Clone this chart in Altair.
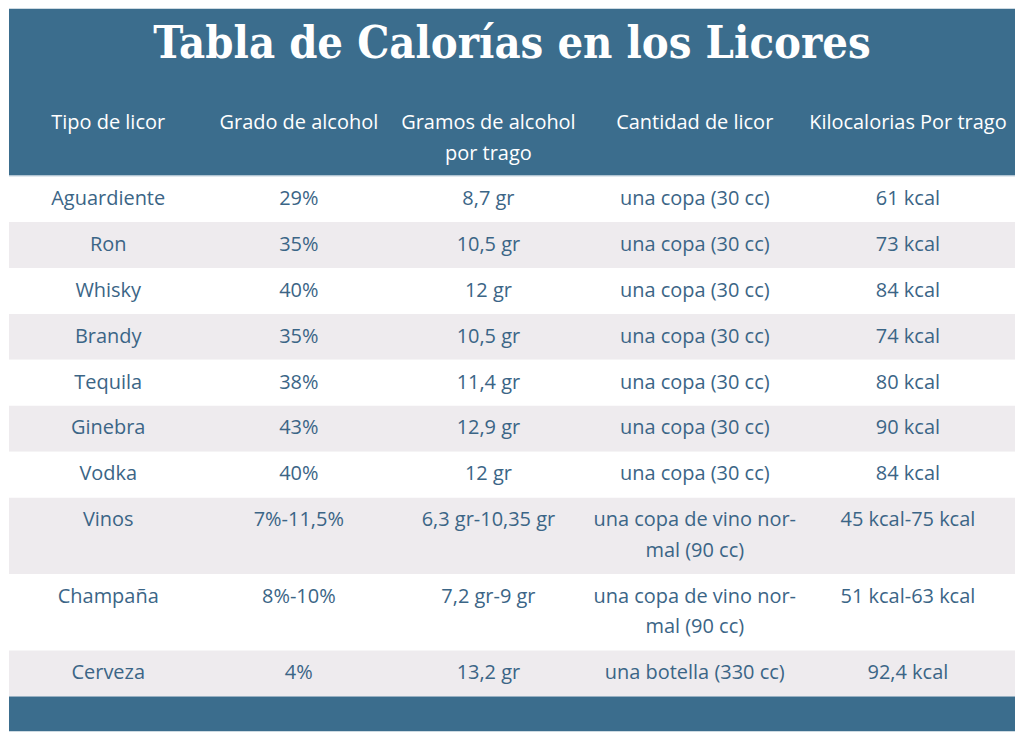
import altair as alt
import pandas as pd

# ---------------- data ----------------
titulo = "Tabla de Calorías en los Licores"
encabezados = ["Tipo de licor", "Grado de alcohol", "Gramos de alcohol\npor trago",
               "Cantidad de licor", "Kilocalorias Por trago"]
tipos = ["Aguardiente", "Ron", "Whisky", "Brandy", "Tequila", "Ginebra", "Vodka",
         "Vinos", "Champaña", "Cerveza"]
grados = ["29%", "35%", "40%", "35%", "38%", "43%", "40%", "7%-11,5%", "8%-10%", "4%"]
gramos = ["8,7 gr", "10,5 gr", "12 gr", "10,5 gr", "11,4 gr", "12,9 gr", "12 gr",
          "6,3 gr-10,35 gr", "7,2 gr-9 gr", "13,2 gr"]
cantidades = ["una copa (30 cc)"] * 7 + ["una copa de vino nor-\nmal (90 cc)",
                                         "una copa de vino nor-\nmal (90 cc)",
                                         "una botella (330 cc)"]
kcal = ["61 kcal", "73 kcal", "84 kcal", "74 kcal", "80 kcal", "90 kcal", "84 kcal",
        "45 kcal-75 kcal", "51 kcal-63 kcal", "92,4 kcal"]

# ---------------- layout (reference pixel space) ----------------
W_REF, H_REF = 1024, 747
W, H = 1008, 724
sx, sy = W / W_REF, H / H_REF
col_x = [101, 295, 488, 698, 915]
HEADER_BOTTOM = 173
LINE_H = 31.5
PAD = 8
FOOTER_BOTTOM = 747

BLUE = "#3b6d8d"
GRAY = "#eeebee"
TXT = "#3b6586"

columnas = [tipos, grados, gramos, cantidades, kcal]

bandas = [{"y": 0, "y2": HEADER_BOTTOM, "tipo": "cabecera"}]
celdas = []
top = HEADER_BOTTOM
for i in range(len(tipos)):
    lines = max(c[i].count("\n") + 1 for c in columnas)
    h = 2 * PAD + lines * LINE_H
    bandas.append({"y": top, "y2": top + h, "tipo": "gris" if i % 2 else "blanco"})
    for j, c in enumerate(columnas):
        celdas.append({"x": col_x[j], "y": top + PAD, "texto": c[i]})
    top += h
bandas.append({"y": top, "y2": FOOTER_BOTTOM, "tipo": "cabecera"})

cab = [{"x": col_x[j], "y": 103, "texto": t} for j, t in enumerate(encabezados)]
tit = [{"x": W_REF / 2, "y": 37, "texto": titulo}]

xs = alt.Scale(domain=[0, W_REF], nice=False, zero=False)
ys = alt.Scale(domain=[0, H_REF], nice=False, zero=False, reverse=True)

fondo = alt.Chart(pd.DataFrame(bandas)).mark_rect().encode(
    x=alt.value(0), x2=alt.value(W),
    y=alt.Y("y:Q", scale=ys, axis=None),
    y2="y2:Q",
    color=alt.Color("tipo:N", legend=None,
                    scale=alt.Scale(domain=["cabecera", "blanco", "gris"],
                                    range=[BLUE, "#ffffff", GRAY])),
)

linea = alt.Chart(pd.DataFrame([{"y": HEADER_BOTTOM}])).mark_rule(
    color="#d9e2ea", strokeWidth=1.5).encode(
    x=alt.value(0), x2=alt.value(W), y=alt.Y("y:Q", scale=ys, axis=None))

texto_cuerpo = alt.Chart(pd.DataFrame(celdas)).mark_text(
    font="Open Sans", fontSize=20, color=TXT, align="center",
    baseline="line-top", lineBreak="\n", lineHeight=LINE_H * sy,
).encode(
    x=alt.X("x:Q", scale=xs, axis=None),
    y=alt.Y("y:Q", scale=ys, axis=None),
    text="texto:N",
)

texto_cab = alt.Chart(pd.DataFrame(cab)).mark_text(
    font="Open Sans", fontSize=20, color="#ffffff", align="center",
    baseline="line-top", lineBreak="\n", lineHeight=LINE_H * sy,
).encode(
    x=alt.X("x:Q", scale=xs, axis=None),
    y=alt.Y("y:Q", scale=ys, axis=None),
    text="texto:N",
)

texto_tit = alt.Chart(pd.DataFrame(tit)).mark_text(
    font="DejaVu Serif Condensed, Noto Serif, DejaVu Serif", fontWeight="bold",
    fontSize=45, color="#ffffff", align="center", baseline="middle",
).encode(
    x=alt.X("x:Q", scale=xs, axis=None),
    y=alt.Y("y:Q", scale=ys, axis=None),
    text="texto:N",
)

chart = alt.layer(fondo, linea, texto_cab, texto_tit, texto_cuerpo).properties(
    width=W, height=H, padding=0, background="#ffffff"
).configure_view(strokeWidth=0)

chart.save("out.html", embed_options={"renderer": "svg", "actions": False})
